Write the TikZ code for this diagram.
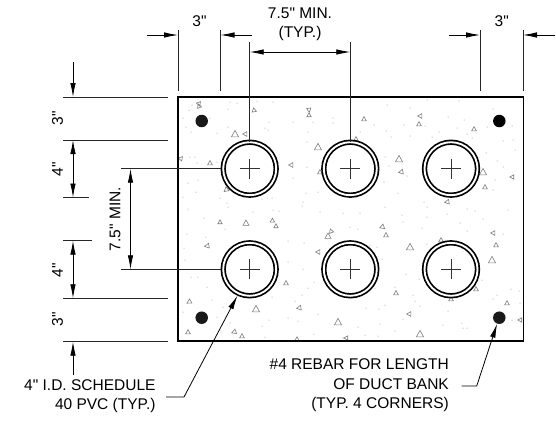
\documentclass[tikz,border=0pt]{standalone}
\usepackage{fontspec}
\newfontfamily\dwgfont{Liberation Sans}
\usetikzlibrary{arrows.meta, calc}
\definecolor{Gritcol}{RGB}{125, 125, 125}
\definecolor{Speckcol}{RGB}{135, 135, 135}
\definecolor{Barcol}{RGB}{25, 25, 25}
\newcommand{\grit}[4]{\draw[gritline, shift={(#1,#2)}, rotate=#4, scale=#3] (-1,0.8) -- (1,0.8) -- (0,-1) -- cycle;}

\begin{document}
\begin{tikzpicture}[
    x=1pt, y=-1pt,
    every node/.style={font=\dwgfont\fontsize{15.5}{19.5}\selectfont, inner sep=0pt},
    slabbox/.style={rectangle, draw=black, line width=1.5pt, minimum width=345.5pt, minimum height=244pt, outer sep=0pt},
    pipecirc/.style={
        circle, draw=black, fill=white, line width=1.7pt,
        double, double distance=1.9pt,
        minimum size=53pt, outer sep=2.6pt,
        path picture={
            \draw[line width=0.8pt, black!80] (path picture bounding box.center) ++(-10,0) -- ++(20,0);
            \draw[line width=0.8pt, black!80] (path picture bounding box.center) ++(0,-10) -- ++(0,20);
        }
    },
    rebarcirc/.style={circle, fill=Barcol, minimum size=12.5pt},
    gritline/.style={draw=Gritcol, line width=0.6pt},
    extline/.style={line width=1pt, black!85},
    dimarrow/.style={-{Latex[length=14pt, width=5.5pt]}, line width=0.8pt},
    dimboth/.style={{Latex[length=14pt, width=5.5pt]}-{Latex[length=14pt, width=5.5pt]}, line width=0.8pt},
    leaderline/.style={-{Latex[length=14pt, width=5.5pt]}, line width=0.8pt}
]
    \useasboundingbox (0,0) rectangle (556,424);

    % ------------------- CONCRETE -------------------
    \node[slabbox] (slab) at (350.75,219) {};

    % sand
    \fill[Speckcol]
        (230,102) circle (0.5) (237,103) circle (0.5) (257,101) circle (0.5) (273,102) circle (0.5) (192,105) circle (0.5)
        (189,110) circle (0.5) (183,118) circle (0.5) (228,109) circle (0.5) (210,118) circle (0.5) (186,127) circle (0.5)
        (191,132) circle (0.5) (217,133) circle (0.5) (228,127) circle (0.5) (269,122) circle (0.5) (265,128) circle (0.5)
        (268,130) circle (0.5) (293,122) circle (0.5) (308,132) circle (0.5) (313,122) circle (0.5) (333,118) circle (0.5)
        (333,123) circle (0.5) (307,142) circle (0.5) (190,157) circle (0.5) (195,157) circle (0.5) (217,162) circle (0.5)
        (197,163) circle (0.5) (293,178) circle (0.5) (307,167) circle (0.5) (188,183) circle (0.5) (198,180) circle (0.5)
        (196,192) circle (0.5) (220,198) circle (0.5) (183,197) circle (0.5) (227,203) circle (0.5) (262,199) circle (0.5)
        (267,198) circle (0.5) (272,198) circle (0.5) (306,193) circle (0.5) (318,192) circle (0.5) (303,202) circle (0.5)
        (302,206) circle (0.5) (273,210) circle (0.5) (279,211) circle (0.5) (253,212) circle (0.5) (228,207) circle (0.5)
        (188,209) circle (0.5) (204,218) circle (0.5) (320,212) circle (0.5) (343,213) circle (0.5)
        (387,105) circle (0.5) (410,108) circle (0.5) (427,100) circle (0.5) (459,101) circle (0.5) (448,117) circle (0.5)
        (464,120) circle (0.5) (493,109) circle (0.5) (374,125) circle (0.5) (360,132) circle (0.5) (386,131) circle (0.5)
        (391,137) circle (0.5) (404,125) circle (0.5) (410,136) circle (0.5) (425,126) circle (0.5) (432,137) circle (0.5)
        (439,132) circle (0.5) (457,128) circle (0.5) (467,134) circle (0.5) (472,138) circle (0.5) (487,127) circle (0.5)
        (512,126) circle (0.5) (503,141) circle (0.5) (513,140) circle (0.5) (515,150) circle (0.5) (385,157) circle (0.5)
        (389,166) circle (0.5) (407,176) circle (0.5) (384,182) circle (0.5) (486,153) circle (0.5) (497,161) circle (0.5)
        (503,167) circle (0.5) (495,180) circle (0.5) (493,190) circle (0.5) (398,193) circle (0.5) (385,207) circle (0.5)
        (424,202) circle (0.5) (427,207) circle (0.5) (467,209) circle (0.5) (475,211) circle (0.5) (360,213) circle (0.5)
        (402,215) circle (0.5) (427,217) circle (0.5) (447,214) circle (0.5) (483,219) circle (0.5) (508,210) circle (0.5)
        (187,234) circle (0.5) (206,237) circle (0.5) (225,229) circle (0.5) (184,248) circle (0.5) (185,260) circle (0.5)
        (191,277) circle (0.5) (198,277) circle (0.5) (207,287) circle (0.5) (183,312) circle (0.5) (212,300) circle (0.5)
        (217,317) circle (0.5) (223,307) circle (0.5) (230,323) circle (0.5) (262,326) circle (0.5) (269,320) circle (0.5)
        (272,297) circle (0.5) (288,241) circle (0.5) (304,243) circle (0.5) (288,262) circle (0.5) (303,269) circle (0.5)
        (314,282) circle (0.5) (308,288) circle (0.5) (302,295) circle (0.5) (295,301) circle (0.5) (288,318) circle (0.5)
        (298,321) circle (0.5) (318,314) circle (0.5) (314,334) circle (0.5) (265,337) circle (0.5) (221,332) circle (0.5)
        (343,338) circle (0.5) (343,258) circle (0.5) (350,227) circle (0.5)
        (358,229) circle (0.5) (403,222) circle (0.5) (422,228) circle (0.5) (460,223) circle (0.5) (467,231) circle (0.5)
        (503,234) circle (0.5) (370,245) circle (0.5) (377,247) circle (0.5) (427,244) circle (0.5) (382,259) circle (0.5)
        (406,274) circle (0.5) (419,279) circle (0.5) (375,288) circle (0.5) (385,305) circle (0.5) (366,308) circle (0.5)
        (379,309) circle (0.5) (413,295) circle (0.5) (415,301) circle (0.5) (420,306) circle (0.5) (395,287) circle (0.5)
        (403,319) circle (0.5) (448,311) circle (0.5) (380,324) circle (0.5) (358,327) circle (0.5) (395,331) circle (0.5)
        (443,325) circle (0.5) (462,323) circle (0.5) (463,328) circle (0.5) (467,328) circle (0.5) (365,335) circle (0.5)
        (378,336) circle (0.5) (482,280) circle (0.5) (493,299) circle (0.5) (511,289) circle (0.5) (519,291) circle (0.5)
        (520,303) circle (0.5) (512,320) circle (0.5) (497,295) circle (0.5);

    % stones, upper half
    \grit{199}{106}{2.2}{20} \grit{199}{104}{2.2}{200} \grit{254}{110}{2.2}{10} \grit{309}{110}{2.2}{190}
    \grit{309}{115}{2.2}{0} \grit{235}{134}{3.6}{0} \grit{245}{134}{2.4}{90} \grit{318}{147}{3.6}{0}
    \grit{181}{159}{2.2}{200} \grit{210}{163}{2.4}{0} \grit{291}{165}{2.4}{90} \grit{226}{190}{2.4}{130}
    \grit{320}{172}{2.4}{0} \grit{364}{119}{2.4}{0} \grit{420}{116}{2.4}{90} \grit{419}{124}{2.4}{0}
    \grit{474}{129}{2.4}{0} \grit{356}{139}{2.4}{0} \grit{399}{159}{3.6}{0} \grit{401}{172}{2.4}{100}
    \grit{483}{172}{3.6}{0} \grit{485}{187}{2.4}{0} \grit{512}{177}{2.2}{90} \grit{447}{202}{2.4}{100}
    % stones, lower half
    \grit{220}{222}{2.2}{0} \grit{246}{223}{3}{0} \grit{272}{221}{2.2}{120} \grit{276}{226}{2.2}{0}
    \grit{328}{236}{3}{0} \grit{331}{231}{2.2}{20} \grit{207}{246}{2.4}{100} \grit{318}{252}{2.4}{90}
    \grit{286}{283}{2.4}{0} \grit{189}{302}{2.4}{120} \grit{256}{309}{3.6}{0} \grit{299}{308}{2.4}{100}
    \grit{338}{322}{3.6}{0} \grit{188}{332}{2.4}{0} \grit{234}{332}{2.4}{110} \grit{242}{336}{2.4}{0}
    \grit{297}{339}{2.2}{0} \grit{346}{338}{2.2}{90} \grit{382}{227}{2.4}{110} \grit{386}{235}{2.4}{0}
    \grit{410}{247}{3.6}{0} \grit{441}{240}{2.4}{0} \grit{493}{233}{2.4}{90} \grit{496}{245}{2.4}{0}
    \grit{492}{260}{3.6}{0} \grit{476}{289}{2.4}{0} \grit{396}{293}{2.4}{0} \grit{507}{303}{2.4}{0}
    \grit{409}{314}{2.4}{90} \grit{420}{334}{3.6}{0} \grit{520}{320}{2.2}{90} \grit{451}{299}{2.4}{0}

    \draw[black, line width=1.5pt] (slab.north west) rectangle (slab.south east);

    % ------------------- PIPES AND REBAR -------------------
    \node[pipecirc] (pipeA) at (249.7,168.7) {};
    \node[pipecirc] (pipeB) at (350.3,168.7) {};
    \node[pipecirc] (pipeC) at (451,168.7) {};
    \node[pipecirc] (pipeD) at (249.7,269.3) {};
    \node[pipecirc] (pipeE) at (350.3,269.3) {};
    \node[pipecirc] (pipeF) at (451,269.3) {};

    \node[rebarcirc] (barA) at (201.7,121) {};
    \node[rebarcirc, fill=black] (barB) at (499.3,121) {};
    \node[rebarcirc] (barC) at (201.7,317.7) {};
    \node[rebarcirc] (barD) at (499.3,317.7) {};

    % ------------------- DIMENSIONS ON TOP -------------------
    \coordinate (topA) at (178,30);
    \coordinate (topB) at (220.5,30);
    \coordinate (topC) at (480,30);
    \coordinate (topD) at (523,30);
    \coordinate (tickA) at (147,35);
    \coordinate (tickB) at (252,35);
    \coordinate (tickC) at (449,35);
    \coordinate (tickD) at (555,35);
    \coordinate (topE) at (249.7,42);
    \coordinate (topF) at (350.3,42);
    \coordinate (midE) at (249.7,52);
    \coordinate (midF) at (350.3,52);

    \draw[extline] (topA) -- +(0,61);
    \draw[extline] (topB) -- +(0,61);
    \draw[extline] (topC) -- +(0,61);
    \draw[extline] (topD) -- +(0,61);
    \draw[dimarrow] (tickA) -- (tickA -| topA);
    \draw[dimarrow] (tickB) -- (tickB -| topB);
    \draw[dimarrow] (tickC) -- (tickC -| topC);
    \draw[dimarrow] (tickD) -- (tickD -| topD);
    \draw[extline, shorten >=-2pt] (topE) -- (pipeA.north);
    \draw[extline, shorten >=-2pt] (topF) -- (pipeB.north);
    \draw[dimboth] (midE) -- (midF);

    \node (lblTopL) at (199.5,21) {3"};
    \node (lblTopR) at (501.7,21) {3"};
    \node[align=center] (lblPitch) at (300,24.5) {7.5" MIN.\\(TYP.)};

    % ------------------- DIMENSIONS ON THE LEFT -------------------
    \coordinate (lvlA) at (63,97);
    \coordinate (lvlB) at (63,140);
    \coordinate (lvlC) at (63,197.5);
    \coordinate (lvlD) at (63,240.7);
    \coordinate (lvlE) at (63,298.3);
    \coordinate (lvlF) at (63,341.7);
    \coordinate (arrowTop) at (73,62);
    \coordinate (arrowBot) at (73,375);
    \coordinate (stemA) at (121,168.7);
    \coordinate (stemB) at (121,269.3);

    \draw[extline] (lvlA) -- +(105,0);
    \draw[extline] (lvlB) -- +(105,0);
    \draw[extline] (lvlC) -- +(26,0);
    \draw[extline] (lvlD) -- +(29,0);
    \draw[extline] (lvlE) -- +(105,0);
    \draw[extline] (lvlF) -- +(105,0);
    \draw[extline] (stemA) -- (pipeA.west);
    \draw[extline] (stemB) -- (pipeD.west);

    \draw[dimarrow] (arrowTop) -- (arrowTop |- lvlA);
    \draw[dimboth] (arrowTop |- lvlB) -- (arrowTop |- lvlC);
    \draw[dimboth] (arrowTop |- lvlD) -- (arrowTop |- lvlE);
    \draw[dimarrow] (arrowBot) -- (arrowBot |- lvlF);
    \draw[dimboth] ($(stemA)+(9.5,0)$) -- ($(stemB)+(9.5,0)$);

    \node[rotate=90] (lblSideA) at (57.5,118) {3"};
    \node[rotate=90] (lblSideB) at (57.5,169) {4"};
    \node[rotate=90] (lblSideC) at (57.5,270) {4"};
    \node[rotate=90] (lblSideD) at (57.5,319) {3"};
    \node[rotate=90] (lblSpacing) at (115,219) {7.5" MIN.};

    % ------------------- NOTES -------------------
    \node[align=right, anchor=east] (notePipe) at (155.7,396) {4" I.D. SCHEDULE\\40 PVC (TYP.)};
    \node[align=right, anchor=east] (noteBar) at (449,385.5) {\#4 REBAR FOR LENGTH\\OF DUCT BANK\\(TYP. 4 CORNERS)};

    \coordinate (kneePipe) at (184,397);
    \coordinate (kneeBar) at (476.7,386);
    \draw[leaderline] (166,397) -- (kneePipe) -- (pipeD.245);
    \draw[leaderline] (461.7,386) -- (kneeBar) -- (barD.250);
\end{tikzpicture}
\end{document}
